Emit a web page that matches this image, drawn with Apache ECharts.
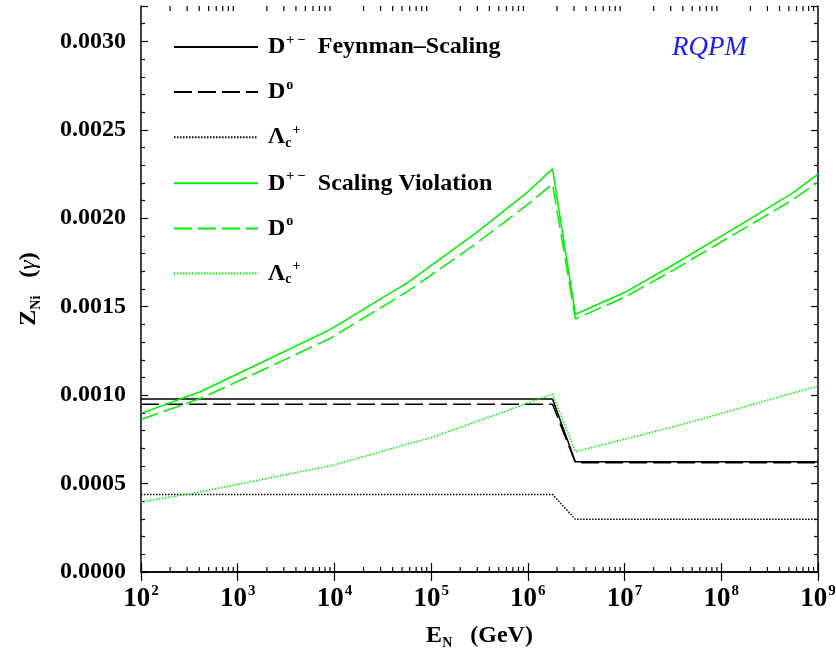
<!DOCTYPE html>
<html>
<head>
<meta charset="UTF-8">
<title>Z_Ni (gamma) vs E_N</title>
<script src="https://cdn.jsdelivr.net/npm/echarts@6/dist/echarts.min.js"></script>
<style>
  html, body { margin: 0; padding: 0; background: #fff; }
  #chart { width: 836px; height: 653px; }
</style>
</head>
<body>
<div id="chart"></div>
<script>
// ---- data ----
// Feynman scaling (black)
var energyFS = [1e2, 1.8e6, 3.1e6, 1e9];
var dpmFS = [0.000978, 0.000978, 0.000623, 0.000623];
var d0FS = [0.000948, 0.000948, 0.000618, 0.000618];
var lcFS = [0.000438, 0.000438, 0.000298, 0.000298];

// Scaling violation (green)
var energySV = [1e2, 4.1e2, 1.7e3, 8.9e3, 5.6e4, 2.9e5, 9.7e5, 1.8e6, 3.1e6, 1e7, 3.2e7, 1.8e8, 5.5e8, 1e9];
var dpmSV = [0.000897, 0.001019, 0.00118, 0.001369, 0.001633, 0.001916, 0.002143, 0.002279, 0.001457, 0.00158, 0.001737, 0.001982, 0.002143, 0.00225];
var d0SV = [0.000862, 0.000981, 0.001135, 0.001319, 0.001583, 0.001856, 0.002073, 0.002194, 0.001431, 0.001553, 0.001707, 0.001948, 0.002105, 0.002205];
var energyLcSV = [1e2, 4.1e2, 9.7e3, 1.05e5, 5.1e5, 1.8e6, 3.1e6, 3.7e7, 1e9];
var lcSV = [0.000396, 0.000453, 0.000604, 0.000764, 0.000897, 0.001006, 0.00068, 0.00083, 0.001052];

var yTicks = [0, 0.0005, 0.001, 0.0015, 0.002, 0.0025, 0.003];
var decades = [2, 3, 4, 5, 6, 7, 8, 9];
var minorMult = [2, 3, 4, 5, 6, 7, 8, 9];

var Y_MIN = 0, Y_MAX = 0.0032;
var SERIF = "'Liberation Serif', 'DejaVu Serif', serif";
var GREEN = '#00ee00';

function pairs(xs, ys) {
  var out = [];
  for (var i = 0; i < xs.length; i++) out.push([xs[i], ys[i]]);
  return out;
}

// minor tick positions on the log axis (2..9 in each decade)
var minorTicks = [];
for (var d = 0; d < decades.length - 1; d++) {
  for (var m = 0; m < minorMult.length; m++) {
    minorTicks.push([minorMult[m] * Math.pow(10, decades[d]), 0]);
  }
}

var legendLabels = {
  'Dpm FS': '{d|D}{sup|+ \u2212}{t|  Feynman\u2013Scaling}',
  'D0 FS': '{d|D}{sup|o}',
  'Lc FS': '{d|\u039b}{sub|c}{sup|+}',
  'Dpm SV': '{d|D}{sup|+ \u2212}{t|  Scaling Violation}',
  'D0 SV': '{d|D}{sup|o}',
  'Lc SV': '{d|\u039b}{sub|c}{sup|+}'
};

function lineSeries(name, data, color, type) {
  return {
    name: name,
    type: 'line',
    data: data,
    symbol: 'none',
    silent: true,
    xAxisIndex: 0,
    yAxisIndex: 0,
    lineStyle: { color: color, width: 1.5, type: type },
    itemStyle: { color: color }
  };
}

var chart = echarts.init(document.getElementById('chart'));

var option = {
  backgroundColor: '#fff',
  animation: false,
  grid: {
    left: 141, right: 18, top: 6, bottom: 81,
    containLabel: false,
    outerBoundsMode: 'none'
  },
  legend: {
    orient: 'vertical',
    left: 168,
    top: 28,
    itemWidth: 84,
    itemHeight: 14,
    itemGap: 19.1,
    selectedMode: false,
    data: ['Dpm FS', 'D0 FS', 'Lc FS', 'Dpm SV', 'D0 SV', 'Lc SV'],
    itemStyle: { opacity: 0 },
    formatter: function (name) { return legendLabels[name]; },
    textStyle: {
      padding: [0, 0, 0, 5],
      rich: {
        d: { fontFamily: SERIF, fontWeight: 'bold', fontSize: 24, color: '#000', lineHeight: 30 },
        sup: { fontFamily: SERIF, fontWeight: 'bold', fontSize: 14, color: '#000', padding: [0, 0, 14, 1] },
        sub: { fontFamily: SERIF, fontWeight: 'bold', fontSize: 14, color: '#000', padding: [12, 0, 0, 0] },
        t: { fontFamily: SERIF, fontWeight: 'bold', fontSize: 24, color: '#000' }
      }
    }
  },
  graphic: [
    {
      type: 'text',
      left: 672,
      top: 34,
      style: {
        text: 'RQPM',
        font: "italic 27px 'Liberation Serif', serif",
        fill: '#1a1aff'
      }
    }
  ],
  xAxis: [
    {
      type: 'log',
      logBase: 10,
      min: 1e2,
      max: 1e9,
      position: 'bottom',
      name: '{b|E}{sub|N}{b|   (GeV)}',
      nameLocation: 'middle',
      nameGap: 50,
      nameTextStyle: {
        rich: {
          b: { fontFamily: SERIF, fontWeight: 'bold', fontSize: 24, color: '#000' },
          sub: { fontFamily: SERIF, fontWeight: 'bold', fontSize: 14, color: '#000', padding: [14, 0, 0, 0] }
        }
      },
      splitLine: { show: false },
      axisLine: { show: true, lineStyle: { color: '#000', width: 1.5 } },
      axisTick: { show: true, inside: true, length: 9, lineStyle: { color: '#000', width: 1.2 } },
      minorTick: { show: false },
      axisLabel: {
        margin: 12,
        formatter: function (v) {
          var e = Math.round(Math.log(v) / Math.LN10);
          return '{b|10}{s|' + e + '}';
        },
        rich: {
          b: { fontFamily: SERIF, fontWeight: 'bold', fontSize: 27, color: '#000' },
          s: { fontFamily: SERIF, fontWeight: 'bold', fontSize: 15, color: '#000', padding: [0, 0, 16, 1] }
        }
      }
    },
    {
      type: 'log',
      logBase: 10,
      min: 1e2,
      max: 1e9,
      position: 'top',
      splitLine: { show: false },
      axisLine: { show: true, lineStyle: { color: '#000', width: 1.5 } },
      axisTick: { show: true, inside: true, length: 9, lineStyle: { color: '#000', width: 1.2 } },
      axisLabel: { show: false }
    }
  ],
  yAxis: [
    {
      type: 'value',
      min: Y_MIN,
      max: Y_MAX,
      interval: 0.0005,
      position: 'left',
      name: '{b|Z}{sub|Ni}{b|   (}{g|\u03b3}{b|)}',
      nameLocation: 'middle',
      nameRotate: 90,
      nameGap: 98,
      nameTextStyle: {
        rich: {
          b: { fontFamily: SERIF, fontWeight: 'bold', fontSize: 24, color: '#000' },
          g: { fontFamily: SERIF, fontStyle: 'italic', fontSize: 24, color: '#000' },
          sub: { fontFamily: SERIF, fontWeight: 'bold', fontSize: 14, color: '#000', padding: [14, 0, 0, 0] }
        }
      },
      splitLine: { show: false },
      axisLine: { show: true, lineStyle: { color: '#000', width: 1.5 } },
      axisTick: { show: true, inside: true, length: 7, lineStyle: { color: '#000', width: 1.2 } },
      minorTick: { show: true, splitNumber: 5, length: 4, lineStyle: { color: '#000', width: 1.2 } },
      axisLabel: {
        margin: 15,
        fontFamily: SERIF,
        fontWeight: 'bold',
        fontSize: 24,
        color: '#000',
        formatter: function (v) {
          for (var i = 0; i < yTicks.length; i++) {
            if (Math.abs(v - yTicks[i]) < 1e-9) return v.toFixed(4);
          }
          return '';
        }
      }
    },
    {
      type: 'value',
      min: Y_MIN,
      max: Y_MAX,
      interval: 0.0005,
      position: 'right',
      splitLine: { show: false },
      axisLine: { show: true, lineStyle: { color: '#000', width: 1.5 } },
      axisTick: { show: true, inside: true, length: 7, lineStyle: { color: '#000', width: 1.2 } },
      minorTick: { show: true, splitNumber: 5, length: 4, lineStyle: { color: '#000', width: 1.2 } },
      axisLabel: { show: false }
    }
  ],
  series: [
    lineSeries('Dpm FS', pairs(energyFS, dpmFS), '#000', 'solid'),
    lineSeries('D0 FS', pairs(energyFS, d0FS), '#000', [18, 6]),
    lineSeries('Lc FS', pairs(energyFS, lcFS), '#000', [1.5, 1.5]),
    lineSeries('Dpm SV', pairs(energySV, dpmSV), GREEN, 'solid'),
    lineSeries('D0 SV', pairs(energySV, d0SV), GREEN, [18, 6]),
    lineSeries('Lc SV', pairs(energyLcSV, lcSV), GREEN, [1.5, 1.5]),
    {
      name: 'minor ticks',
      type: 'custom',
      silent: true,
      xAxisIndex: 0,
      yAxisIndex: 0,
      data: minorTicks,
      clip: false,
      renderItem: function (params, api) {
        var bottom = api.coord([api.value(0), Y_MIN]);
        var top = api.coord([api.value(0), Y_MAX]);
        var st = { stroke: '#000', lineWidth: 1.2 };
        return {
          type: 'group',
          children: [
            { type: 'line', shape: { x1: bottom[0], y1: bottom[1], x2: bottom[0], y2: bottom[1] - 5 }, style: st },
            { type: 'line', shape: { x1: top[0], y1: top[1], x2: top[0], y2: top[1] + 5 }, style: st }
          ]
        };
      }
    }
  ]
};

chart.setOption(option);
</script>
</body>
</html>
